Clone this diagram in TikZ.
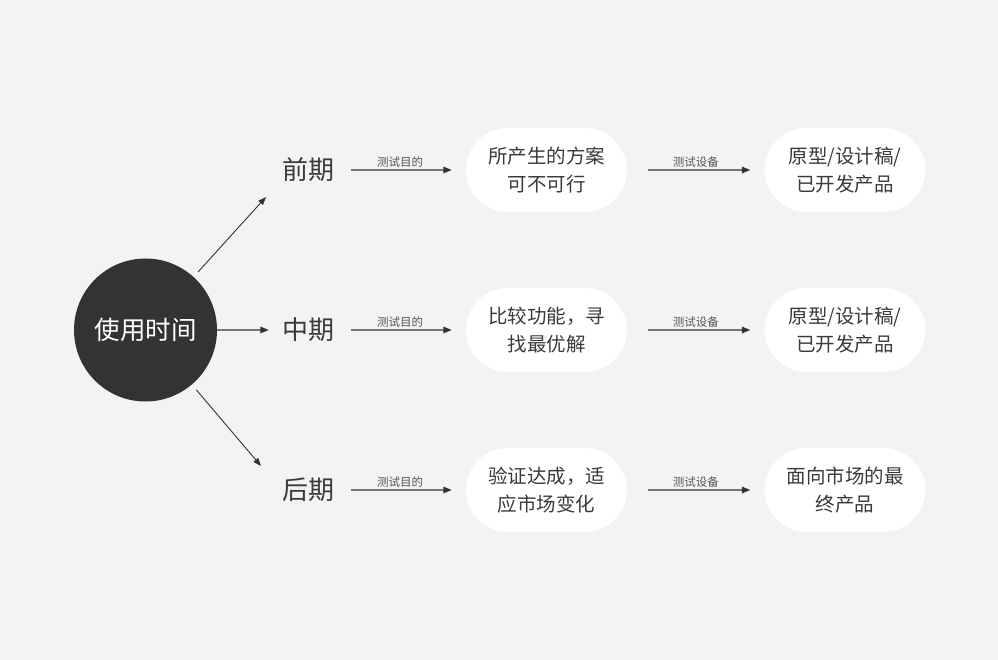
\documentclass[tikz,border=0pt]{standalone}
\usepackage{fontspec}
\setmainfont{Noto Sans CJK SC}
\usetikzlibrary{arrows.meta}
\definecolor{bggray}{HTML}{F3F3F3}
\definecolor{darkdot}{HTML}{333333}
\definecolor{txtgray}{HTML}{3A3A3A}
\definecolor{lblgray}{HTML}{555555}
\definecolor{linegray}{HTML}{777777}
\tikzset{
  phase/.style={inner sep=0pt, text=txtgray, font=\fontsize{26}{30}\selectfont},
  pill/.style={fill=white, rounded corners=42pt, minimum width=161pt, minimum height=84pt,
    align=center, text=txtgray, font=\fontsize{19.5}{28}\selectfont},
  tiny/.style={text=lblgray, font=\fontsize{11.5}{13}\selectfont, inner sep=2pt},
  thinarrow/.style={draw=darkdot, line width=0.9pt, -{Triangle[length=8pt,width=6pt]}},
  grayarrow/.style={draw=linegray, line width=1.4pt,
    -{Triangle[length=8.5pt,width=6.5pt,color=darkdot]}},
}
\begin{document}
\begin{tikzpicture}[x=1pt,y=-1pt]
  % fondo
  \fill[bggray] (0,0) rectangle (998,660);
  \useasboundingbox (0,0) rectangle (998,660);

  % cerchio centrale
  \node[circle, fill=darkdot, minimum size=143pt, outer sep=7pt, text=white,
    font=\fontsize{25.5}{30}\selectfont] (time) at (145.5,330) {使用时间};

  % fasi
  \node[phase] (pre) at (308,170) {前期};
  \node[phase] (mid) at (308,330) {中期};
  \node[phase] (post) at (308,490) {后期};
  \coordinate (preIn) at (266,197);
  \coordinate (postIn) at (261,466);

  \draw[thinarrow] (time) -- (preIn);
  \draw[grayarrow, shorten <=-7pt, shorten >=13pt] (time) -- (mid);
  \draw[thinarrow] (time) -- (postIn);

  % scopi
  \node[pill] (aimPre) at (546.5,170) {所产生的方案\\可不可行};
  \node[pill] (aimMid) at (546.5,330) {比较功能，寻\\找最优解};
  \node[pill] (aimPost) at (546.5,490) {验证达成，适\\应市场变化};

  % dispositivi
  \node[pill] (devPre) at (845,170) {原型/设计稿/\\已开发产品};
  \node[pill] (devMid) at (845,330) {原型/设计稿/\\已开发产品};
  \node[pill] (devPost) at (845,490) {面向市场的最\\终产品};

  \foreach \ph/\aim/\dev in {pre/aimPre/devPre, mid/aimMid/devMid, post/aimPost/devPost}{
    \draw[grayarrow, shorten <=17pt, shorten >=14pt] (\ph) -- (\aim)
      node[midway, above, tiny] {测试目的};
    \draw[grayarrow, shorten <=21pt, shorten >=14pt] (\aim) -- (\dev)
      node[midway, above, tiny] {测试设备};
  }
\end{tikzpicture}
\end{document}
